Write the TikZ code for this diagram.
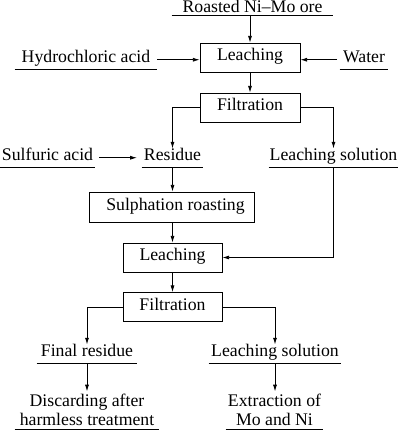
\documentclass[tikz,border=0pt]{standalone}
\usepackage{fontspec}
\setmainfont{Liberation Serif}
\usetikzlibrary{arrows.meta}

\tikzset{
    proc/.style={draw, line width=0.6pt, minimum height=21.75pt, inner sep=0pt,
        text height=.7em, text depth=.25em},
    feed/.style={inner xsep=0pt, inner ysep=2pt, anchor=south,
        append after command={(\tikzlastnode.south west) edge[-, line width=0.6pt] (\tikzlastnode.south east)}},
    oneline/.style={feed, text height=.7em, text depth=.25em},
    flow/.style={-{Latex[length=5pt,width=3pt]}, line width=0.6pt},
}

\begin{document}
\begin{tikzpicture}[x=0.75pt, y=-0.75pt,
        every node/.style={font=\fontsize{13.3}{14.3}\selectfont}]
    \useasboundingbox (0,0) rectangle (400,431);

    % first stage
    \node[oneline, text depth=0pt, minimum width=121pt] (roast) at (252.5,15) {Roasted Ni–Mo ore};
    \node[proc, minimum width=75pt] (leach1) at (250,57.5) {Leaching};
    \node[oneline, minimum width=106.5pt] (hcl) at (86,69) {Hydrochloric acid};
    \node[oneline, minimum width=36pt] (water) at (364,69) {Water};
    \node[proc, minimum width=75pt] (filt1) at (250,107.5) {Filtration};

    % second stage
    \node[oneline, minimum width=71pt] (sulf) at (47.5,167) {Sulfuric acid};
    \node[oneline, minimum width=46pt] (residue) at (172.5,167) {Residue};
    \node[oneline, minimum width=97pt] (sol1) at (333.5,167) {Leaching solution};
    \node[proc, minimum width=123.75pt, minimum height=22.5pt] (sulph) at (171.5,207) {\hspace{6pt}Sulphation roasting};
    \node[proc, minimum width=74.25pt] (leach2) at (172.5,257.5) {Leaching};
    \node[proc, minimum width=74.25pt] (filt2) at (172.5,307) {Filtration};

    % products
    \node[oneline, minimum width=75pt] (final) at (87,363) {Final residue};
    \node[oneline, minimum width=99pt] (sol2) at (275,363) {Leaching solution};
    \node[feed, align=center, minimum width=108pt] (discard) at (87,429) {Discarding after\\harmless treatment};
    \node[feed, align=center, minimum width=73pt] (extract) at (274.5,429) {Extraction of\\Mo and Ni};

    \draw[flow] (roast.south -| leach1) -- (leach1);
    \draw[flow] (hcl.east) -- (hcl.east -| leach1.west);
    \draw[flow, shorten <=2pt] (water.west) -- (water.west -| leach1.east);
    \draw[flow] (leach1) -- (filt1);
    \draw[flow] (filt1.west) -| (residue.north);
    \draw[flow] (filt1.east) -| (sol1.north);
    \draw[flow, shorten <=3pt, shorten >=3.5pt] (sulf.east) -- (residue.west);
    \draw[flow] (residue.south) -- (residue.south |- sulph.north);
    \draw[flow] (sulph.south -| leach2) -- (leach2);
    \draw[flow] (sol1.south) |- (leach2.east);
    \draw[flow] (leach2) -- (filt2);
    \draw[flow] (filt2.west) -| (final.north);
    \draw[flow] (filt2.east) -| (sol2.north);
    \draw[flow] (final.south) -- (discard.north);
    \draw[flow] (sol2.south) -- (sol2.south |- extract.north);
\end{tikzpicture}
\end{document}
